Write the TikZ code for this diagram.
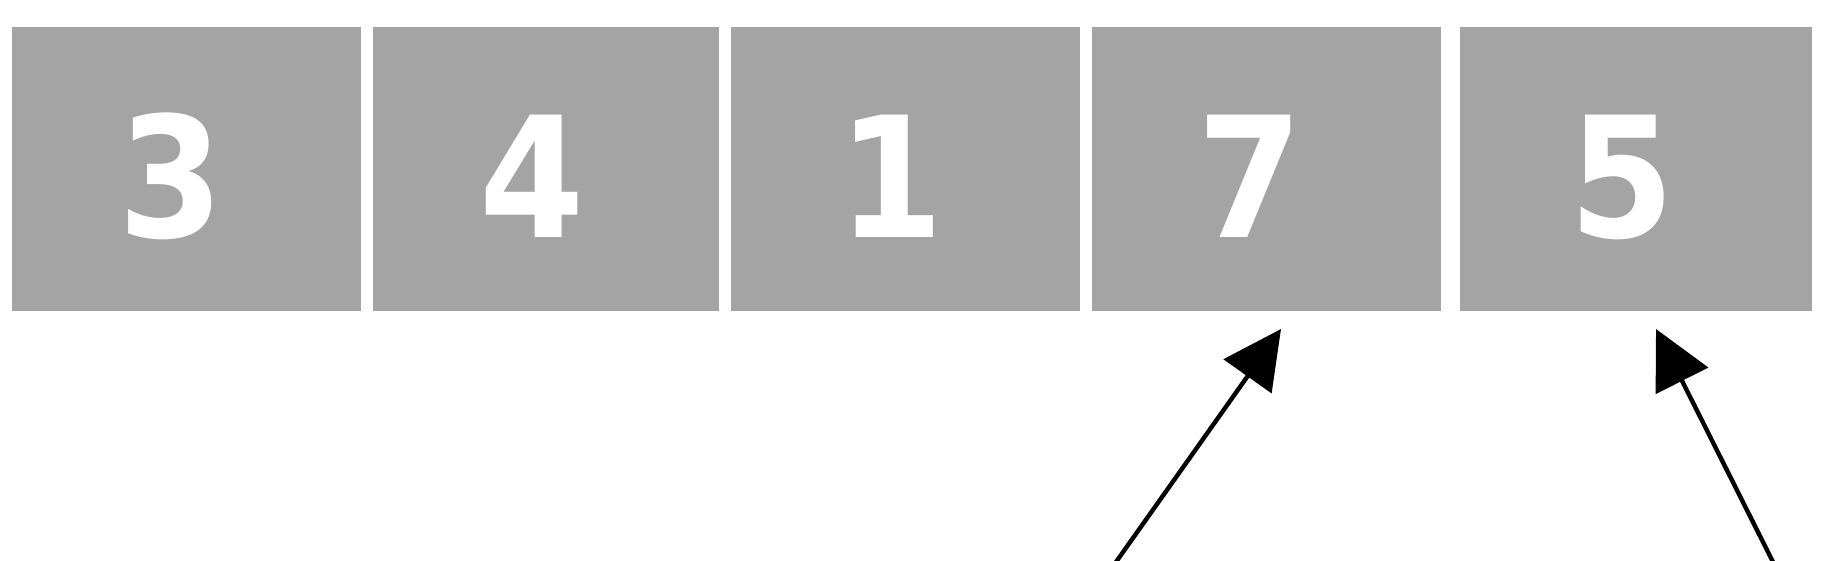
\documentclass[tikz,border=0pt]{standalone}
\usepackage{fontspec}
\newfontfamily\digitfont{DejaVu Sans Condensed}[UprightFont={* Bold}]
\usetikzlibrary{arrows.meta}
\definecolor{cellgray}{RGB}{164,164,164}
\begin{document}
\begin{tikzpicture}[x=1pt,y=-1pt,
  cell/.style={rectangle, fill=cellgray, draw=none, inner sep=0pt, minimum height=284pt},
  digit/.style={text=white, inner sep=0pt, anchor=base, font=\digitfont\fontsize{168}{180}\selectfont},
  pointer/.style={line width=4.4pt, -{Triangle[length=58pt,width=58pt]}}
]
\useasboundingbox[fill=white] (0,0) rectangle (1839,560);
\node[cell, minimum width=349pt] (b1) at (186.5,169) {};
\node[cell, minimum width=346pt] (b2) at (546,169) {};
\node[cell, minimum width=349pt] (b3) at (905.5,169) {};
\node[cell, minimum width=349pt] (b4) at (1266.5,169) {};
\node[cell, minimum width=352pt] (b5) at (1636,169) {};
\node[digit] (d1) at (171,237.5) {3};
\node[digit] (d2) at (532,237.5) {4};
\node[digit] (d3) at (891.5,237.5) {1};
\node[digit] (d4) at (1250,237.5) {7};
\node[digit] (d5) at (1622,237.5) {5};
\coordinate (t1) at (1116,562);
\coordinate (h1) at (1281,329);
\coordinate (t2) at (1773,562);
\coordinate (h2) at (1656,329);
\draw[pointer] (t1) -- (h1);
\draw[pointer] (t2) -- (h2);
\end{tikzpicture}
\end{document}
